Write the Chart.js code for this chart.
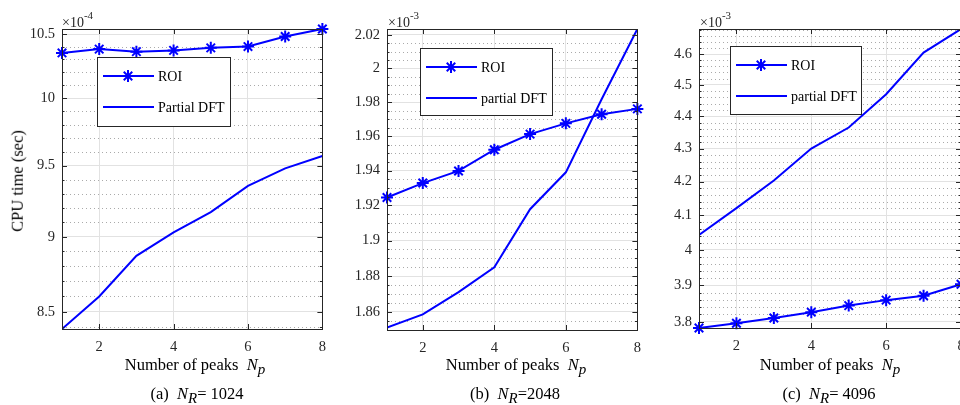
<!DOCTYPE html>
<html>
<head>
<meta charset="utf-8">
<script src="https://cdn.jsdelivr.net/npm/chart.js@4.4.1/dist/chart.umd.min.js"></script>
<style>
  html, body { margin: 0; padding: 0; background: #fff; overflow: hidden; width: 960px; height: 405px; }
  body { position: relative; font-family: "Liberation Serif", "DejaVu Serif", serif; }
  canvas { position: absolute; top: 0; }
  .txt { position: absolute; white-space: nowrap; color: #000; line-height: 1; }
  .ctr { transform: translateX(-50%); }
  .exp { font-size: 14px; color: #262626; }
  .exp sup { font-size: 11px; position: relative; top: -2px; }
  .xt, .cap { font-size: 16.5px; }
  .xt sub, .cap sub { font-size: 15px; position: relative; top: 4px; vertical-align: baseline; }
  .yt { font-size: 16.5px; transform: translate(-50%, -50%) rotate(-90deg); }
</style>
</head>
<body>
<canvas id="chartA" width="335" height="405" style="left:0px"></canvas>
<canvas id="chartB" width="315" height="405" style="left:335px"></canvas>
<canvas id="chartC" width="325" height="405" style="left:650px"></canvas>

<div class="txt yt" style="left:18px; top:181px;">CPU time (sec)</div>

<div class="txt exp" style="left:62px; top:12px;">×10<sup>-4</sup></div>
<div class="txt exp" style="left:388px; top:12px;">×10<sup>-3</sup></div>
<div class="txt exp" style="left:700px; top:12px;">×10<sup>-3</sup></div>

<div class="txt xt ctr" style="left:195px; top:357px;">Number of peaks&nbsp; <i>N</i><sub><i>p</i></sub></div>
<div class="txt xt ctr" style="left:516px; top:357px;">Number of peaks&nbsp; <i>N</i><sub><i>p</i></sub></div>
<div class="txt xt ctr" style="left:830px; top:357px;">Number of peaks&nbsp; <i>N</i><sub><i>p</i></sub></div>

<div class="txt cap ctr" style="left:197px; top:386px;">(a)&nbsp; <i>N</i><sub><i>R</i></sub>= 1024</div>
<div class="txt cap ctr" style="left:515px; top:386px;">(b)&nbsp; <i>N</i><sub><i>R</i></sub>=2048</div>
<div class="txt cap ctr" style="left:829px; top:386px;">(c)&nbsp; <i>N</i><sub><i>R</i></sub>= 4096</div>

<script>
/* --- data ---------------------------------------------------------- */
const peaks  = [1, 2, 3, 4, 5, 6, 7, 8];
const xTicks = [2, 4, 6, 8];

// (a) N_R = 1024, values x 1e-4 s
const roiA    = [10.35, 10.38, 10.36, 10.37, 10.39, 10.40, 10.48, 10.54];
const dftA    = [8.39, 8.60, 8.87, 9.03, 9.17, 9.355, 9.48, 9.57];
const yTicksA = [8.5, 9, 9.5, 10, 10.5];

// (b) N_R = 2048, values x 1e-3 s
const roiB    = [1.9245, 1.9328, 1.9398, 1.9521, 1.9612, 1.9675, 1.9728, 1.9760];
const dftB    = [1.8514, 1.8586, 1.8710, 1.8849, 1.9178, 1.9390, 1.9817, 2.0236];
const yTicksB = [1.86, 1.88, 1.9, 1.92, 1.94, 1.96, 1.98, 2, 2.02];

// (c) N_R = 4096, values x 1e-3 s
const roiC    = [3.783, 3.796, 3.810, 3.826, 3.844, 3.859, 3.871, 3.903];
const dftC    = [4.043, 4.121, 4.203, 4.300, 4.365, 4.470, 4.605, 4.683];
const yTicksC = [3.8, 3.9, 4, 4.1, 4.2, 4.3, 4.4, 4.5, 4.6];

/* --- look ---------------------------------------------------------- */
const BLUE  = '#0000ff';
const AXIS  = '#262626';
const FONT  = '"Liberation Serif", "DejaVu Serif", serif';

// minor dotted grid, inward ticks, box and the in-axes legend (MATLAB style)
const axisBox = {
  id: 'axisBox',
  beforeDatasetsDraw(chart, args, o) {
    const { ctx, chartArea: a, scales: { y } } = chart;
    ctx.save();
    ctx.strokeStyle = '#aaaaaa';
    ctx.lineWidth = 1;
    ctx.setLineDash([1, 3]);
    for (const v of minorValues(y, o)) {
      const py = Math.round(y.getPixelForValue(v)) + 0.5;
      ctx.beginPath(); ctx.moveTo(a.left, py); ctx.lineTo(a.right, py); ctx.stroke();
    }
    ctx.restore();
  },
  afterDatasetsDraw(chart, args, o) {
    const { ctx, chartArea: a, scales: { x, y } } = chart;
    ctx.save();
    ctx.strokeStyle = AXIS;
    ctx.lineWidth = 1;
    // ticks
    ctx.beginPath();
    o.majors.forEach(v => {
      const py = Math.round(y.getPixelForValue(v)) + 0.5;
      ctx.moveTo(a.left, py);  ctx.lineTo(a.left + 5, py);
      ctx.moveTo(a.right, py); ctx.lineTo(a.right - 5, py);
    });
    minorValues(y, o).forEach(v => {
      const py = Math.round(y.getPixelForValue(v)) + 0.5;
      ctx.moveTo(a.left, py);  ctx.lineTo(a.left + 2.5, py);
      ctx.moveTo(a.right, py); ctx.lineTo(a.right - 2.5, py);
    });
    xTicks.forEach(v => {
      const px = Math.round(x.getPixelForValue(v)) + 0.5;
      ctx.moveTo(px, a.bottom); ctx.lineTo(px, a.bottom - 5);
      ctx.moveTo(px, a.top);    ctx.lineTo(px, a.top + 5);
    });
    ctx.stroke();
    ctx.strokeRect(Math.round(a.left) + 0.5, Math.round(a.top) + 0.5,
                   Math.round(a.right - a.left), Math.round(a.bottom - a.top));

    // legend
    const L = o.legend;
    const bx = Math.round(a.left + L.dx), by = Math.round(a.top + L.dy);
    ctx.fillStyle = '#fff';
    ctx.fillRect(bx, by, L.w, L.h);
    ctx.strokeRect(bx + 0.5, by + 0.5, L.w, L.h);
    ctx.font = '14px ' + FONT;
    ctx.textBaseline = 'middle';
    chart.data.datasets.forEach((ds, i) => {
      const ry = by + [19, 50][i];
      ctx.strokeStyle = ds.borderColor;
      ctx.lineWidth = ds.borderWidth;
      ctx.beginPath(); ctx.moveTo(bx + 6, ry); ctx.lineTo(bx + 57, ry); ctx.stroke();
      if (ds.pointRadius > 0) {
        Chart.helpers.drawPoint(ctx, { pointStyle: ds.pointStyle, radius: ds.pointRadius,
          borderWidth: ds.pointBorderWidth, rotation: 0 }, bx + 31, ry);
      }
      ctx.fillStyle = '#000';
      ctx.fillText(ds.label, bx + 61, ry + 1);
    });
    ctx.restore();
  }
};

function minorValues(y, o) {
  const out = [];
  const k0 = Math.ceil(y.min / o.minorStep - 1e-6), k1 = Math.floor(y.max / o.minorStep + 1e-6);
  for (let k = k0; k <= k1; k++) {
    const v = k * o.minorStep;
    if (!o.majors.some(m => Math.abs(m - v) < o.minorStep / 10)) out.push(v);
  }
  return out;
}

function makePanel(id, roi, dft, dftLabel, yTicks, minorStep, geo) {
  const all = roi.concat(dft);
  new Chart(document.getElementById(id), {
    type: 'line',
    data: {
      datasets: [{
        label: 'ROI',
        data: peaks.map((p, i) => ({ x: p, y: roi[i] })),
        borderColor: BLUE, backgroundColor: BLUE, borderWidth: 2,
        pointStyle: 'star', pointRadius: 6, pointBorderWidth: 2,
        pointBorderColor: BLUE, tension: 0, clip: false
      }, {
        label: dftLabel,
        data: peaks.map((p, i) => ({ x: p, y: dft[i] })),
        borderColor: BLUE, backgroundColor: BLUE, borderWidth: 2,
        pointRadius: 0, tension: 0
      }]
    },
    options: {
      responsive: false,
      animation: false,
      events: [],
      layout: { padding: { left: 0, top: 29, right: geo.padR, bottom: 0 } },
      scales: {
        x: {
          type: 'linear', min: 1, max: 8,
          afterBuildTicks: s => { s.ticks = xTicks.map(v => ({ value: v })); },
          afterFit: s => { s.height = geo.xH; },
          grid: { color: '#e2e2e2', drawTicks: false },
          border: { display: false },
          ticks: { color: AXIS, padding: 9, font: { family: FONT, size: 14.5 }, maxRotation: 0 }
        },
        y: {
          type: 'logarithmic',
          min: Math.min(...all), max: Math.max(...all),
          afterBuildTicks: s => { s.ticks = yTicks.map(v => ({ value: v })); },
          afterFit: s => { s.width = geo.yW; },
          grid: { color: '#e2e2e2', drawTicks: false },
          border: { display: false },
          ticks: { color: AXIS, padding: 7, font: { family: FONT, size: 14.5 },
                   callback: v => String(v) }
        }
      },
      plugins: {
        legend: { display: false },
        tooltip: { enabled: false },
        axisBox: { majors: yTicks, minorStep: minorStep, legend: geo.legend }
      }
    },
    plugins: [axisBox]
  });
}

makePanel('chartA', roiA, dftA, 'Partial DFT', yTicksA, 0.1,
  { yW: 62, padR: 11, xH: 76, legend: { dx: 35, dy: 28, w: 133, h: 69 } });
makePanel('chartB', roiB, dftB, 'partial DFT', yTicksB, 0.005,
  { yW: 52, padR: 5, xH: 75, legend: { dx: 33, dy: 19, w: 132, h: 67 } });
makePanel('chartC', roiC, dftC, 'partial DFT', yTicksC, 0.02,
  { yW: 49, padR: 14, xH: 77, legend: { dx: 31, dy: 17, w: 131, h: 68 } });
</script>
</body>
</html>
